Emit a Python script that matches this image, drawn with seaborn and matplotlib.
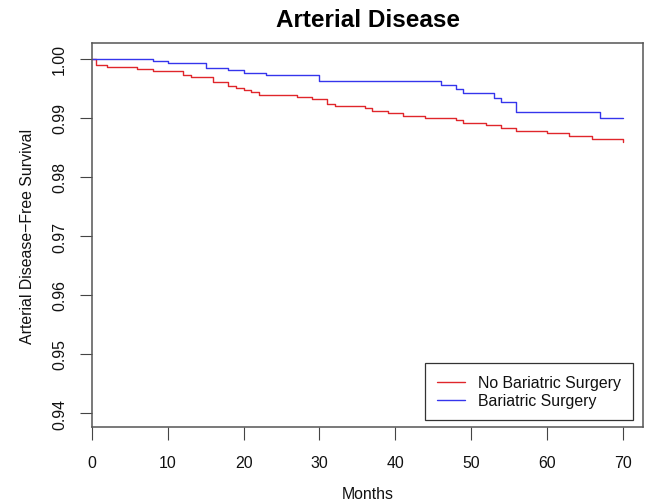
import matplotlib
matplotlib.use("Agg")
import matplotlib.pyplot as plt
import seaborn as sns
import pandas as pd

# ---- data ----
groups = ["No Bariatric Surgery", "Bariatric Surgery"]
group_colors = ["#e0262b", "#3535ec"]

no_surgery_months = [0, 0.5, 2, 6, 8, 12, 13, 16, 18, 19, 20, 21, 22, 27, 29, 31, 32,
                     36, 37, 39, 41, 44, 48, 49, 52, 54, 56, 60, 63, 66, 70]
no_surgery_surv = [1.0, 0.9990, 0.99865, 0.9983, 0.9980, 0.9973, 0.99696, 0.99617,
                   0.9954, 0.99506, 0.99472, 0.99432, 0.99393, 0.99354, 0.9932,
                   0.99241, 0.99202, 0.99169, 0.99123, 0.99084, 0.99039, 0.99005,
                   0.9896, 0.98921, 0.98876, 0.98831, 0.98786, 0.9874, 0.98696,
                   0.98651, 0.98595]

surgery_months = [0, 8, 10, 15, 18, 20, 23, 30, 46, 48, 49, 53, 54, 56, 67, 70]
surgery_surv = [1.0, 0.9997, 0.9993, 0.9985, 0.9981, 0.9977, 0.99725, 0.9962,
                0.9955, 0.9949, 0.9942, 0.9934, 0.9927, 0.9910, 0.9900, 0.9900]

x_ticks = [0, 10, 20, 30, 40, 50, 60, 70]
y_ticks = [0.94, 0.95, 0.96, 0.97, 0.98, 0.99, 1.00]
y_tick_labels = ["0.94", "0.95", "0.96", "0.97", "0.98", "0.99", "1.00"]

df = pd.concat([
    pd.DataFrame({"Months": no_surgery_months, "Survival": no_surgery_surv, "Group": groups[0]}),
    pd.DataFrame({"Months": surgery_months, "Survival": surgery_surv, "Group": groups[1]}),
], ignore_index=True)

sns.set_style("white")
plt.rcParams["font.family"] = ["Liberation Sans", "DejaVu Sans"]

FS = 11.4

fig = plt.figure(figsize=(6.46, 5.02), dpi=100)
ax = fig.add_axes([92 / 646, 1 - 428 / 502, (643 - 92) / 646, (428 - 44) / 502])

sns.lineplot(data=df, x="Months", y="Survival", hue="Group", hue_order=groups,
             palette=group_colors, estimator=None, drawstyle="steps-post",
             linewidth=1.0, ax=ax, legend=True)

ax.set_xlim(0, 72.7)
ax.set_ylim(0.93764, 1.0027)
ax.set_xticks(x_ticks)
ax.set_yticks(y_ticks)
ax.set_yticklabels(y_tick_labels, rotation=90, va="center")
ax.tick_params(axis="both", direction="out", length=9, width=0.8, color="#444444",
               labelsize=FS, colors="#111111", left=True, bottom=True)
ax.tick_params(axis="x", pad=11)
ax.tick_params(axis="y", pad=9)
for s in ax.spines.values():
    s.set_color("#555555")
    s.set_linewidth(1.1)

ax.set_xlabel("Months", fontsize=FS, labelpad=12, color="#111111")
ax.set_ylabel("Arterial Disease\u2212Free Survival", fontsize=FS, labelpad=12, color="#111111")
ax.set_title("Arterial Disease", fontsize=17.5, fontweight="bold", pad=12, color="black")

leg = ax.legend(loc="lower right", bbox_to_anchor=(0.982, 0.018), borderaxespad=0,
                fontsize=FS, frameon=True, fancybox=False, framealpha=1,
                edgecolor="#333333", handlelength=1.75, handletextpad=0.85,
                borderpad=0.75, labelspacing=0.2, title=None)
leg.get_frame().set_linewidth(0.9)
for t in leg.get_texts():
    t.set_color("#111111")
for line in leg.get_lines():
    line.set_linewidth(1.0)

fig.savefig("out.png", dpi=100)
